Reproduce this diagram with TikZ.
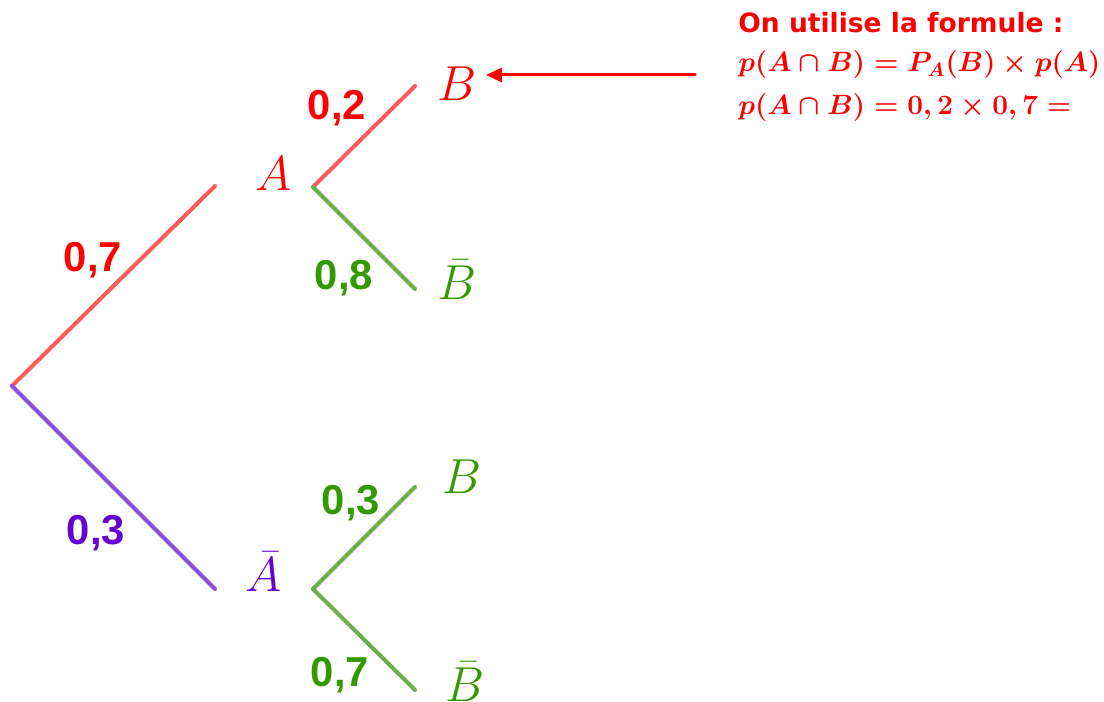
\RequirePackage{fix-cm}
\documentclass[tikz,border=0pt]{standalone}
\usepackage{amsmath}
\usepackage{fontspec}
\usetikzlibrary{arrows.meta}
\newfontfamily\probfont{Liberation Sans}
\newfontfamily\notefont{DejaVu Sans}
\definecolor{tred}{HTML}{FF0000}
\definecolor{lred}{HTML}{FF5B5B}
\definecolor{tgreen}{HTML}{339900}
\definecolor{lgreen}{HTML}{6AAF4A}
\definecolor{tpurple}{HTML}{6600CC}
\definecolor{lpurple}{HTML}{8B4FDC}

\begin{document}
\begin{tikzpicture}[
  x=0.02cm, y=0.02cm,
  line cap=round, line join=round,
  br/.style   = {line width=2.3pt},
  leaf/.style = {font=\fontsize{28}{31}\selectfont, inner sep=0pt},
  prob/.style = {font=\probfont\bfseries\fontsize{23.8}{26}\selectfont,
                 inner sep=0pt, anchor=base},
  note/.style = {text=tred, inner sep=0pt, anchor=base west},
  head/.style = {font=\notefont\bfseries\fontsize{15.1}{18}\selectfont},
  formula/.style = {font=\fontsize{15.9}{19}\selectfont},
  ptr/.style  = {draw=tred, line width=1.7pt, shorten >=0.18cm,
                 -{Triangle[length=0.32cm, width=0.28cm]}}
]
\useasboundingbox (0,0) rectangle (1104,702);

% fourches de l'arbre
\coordinate (root) at (12,316);
\coordinate (aIn)  at (215,516);
\coordinate (aOut) at (313,515);
\coordinate (nIn)  at (215,113);
\coordinate (nOut) at (313,113);
\coordinate (ab)   at (415,616);
\coordinate (anb)  at (415,413);
\coordinate (nb)   at (415,215);
\coordinate (nnb)  at (415,12);

% evenements
\node[leaf, text=tred]    (lA)   at (274,528) {$A$};
\node[leaf, text=tpurple] (lN)   at (264,130) {$\bar A$};
\node[leaf, text=tred]    (lAB)  at (457,618) {$B$};
\node[leaf, text=tgreen]  (lANB) at (457,422) {$\bar B$};
\node[leaf, text=tgreen]  (lNB)  at (462,225) {$B$};
\node[leaf, text=tgreen]  (lNNB) at (465,20)  {$\bar B$};

% branches
\draw[br, lred]    (root) -- (aIn);
\draw[br, lpurple] (root) -- (nIn);
\draw[br, lred]    (aOut) -- (ab);
\draw[br, lgreen]  (aOut) -- (anb);
\draw[br, lgreen]  (nOut) -- (nb);
\draw[br, lgreen]  (nOut) -- (nnb);

% probabilites
\node[prob, text=tred]    (p1) at (93,430)  {0,7};
\node[prob, text=tpurple] (p2) at (96,157)  {0,3};
\node[prob, text=tred]    (p3) at (337,582) {0,2};
\node[prob, text=tgreen]  (p4) at (344,412) {0,8};
\node[prob, text=tgreen]  (p5) at (351,187) {0,3};
\node[prob, text=tgreen]  (p6) at (340,15)  {0,7};

% formule
\node[note, head] (t0) at (738,669) {On utilise la formule :};
\node[note, formula] (t1) at (738,630) {$\boldsymbol{p(A\cap B)=P_A(B)\times p(A)}$};
\node[note, formula] (t2) at (738,587) {$\boldsymbol{p(A\cap B)=0,2\times 0,7=}$};

\coordinate (tail) at (695,627);
\draw[ptr] (tail) -- (tail -| lAB.east);

\end{tikzpicture}
\end{document}
